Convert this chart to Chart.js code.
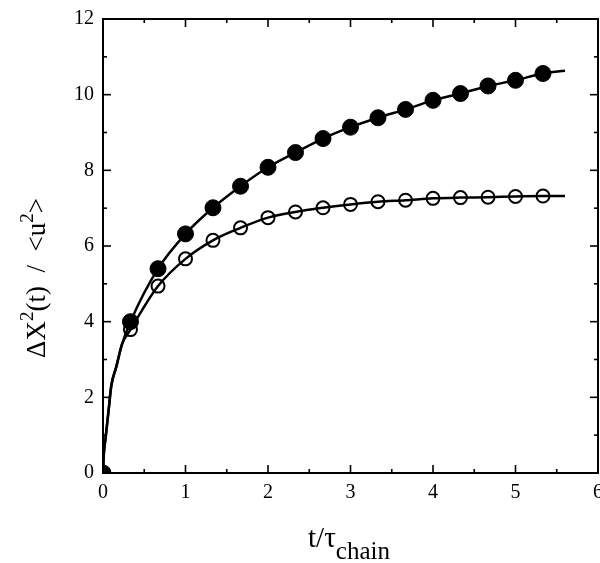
<!DOCTYPE html>
<html><head><meta charset="utf-8">
<script src="https://cdn.jsdelivr.net/npm/chart.js@4/dist/chart.umd.min.js"></script>
<style>html,body{margin:0;padding:0;background:#fff}#wrap{width:600px;height:563px}</style>
</head><body><div id="wrap"><canvas id="c" width="600" height="563"></canvas></div>
<script>
// ---- data ----
const markerT  = [0, 0.333, 0.667, 1.0, 1.333, 1.667, 2.0, 2.333, 2.667, 3.0, 3.333, 3.667, 4.0, 4.333, 4.667, 5.0, 5.333];
const filledY  = [0, 4.00, 5.40, 6.32, 7.01, 7.58, 8.08, 8.47, 8.84, 9.14, 9.39, 9.61, 9.85, 10.03, 10.23, 10.38, 10.56];
const openY    = [0, 3.79, 4.94, 5.66, 6.15, 6.48, 6.75, 6.90, 7.01, 7.10, 7.17, 7.21, 7.26, 7.28, 7.29, 7.31, 7.32];
// fitted curves (solid lines)
const fitT      = [0, 0.01, 0.03, 0.07, 0.10, 0.16, 0.23, 0.333, 0.667, 1.0, 1.333, 1.667, 2.0, 2.333, 2.667, 3.0, 3.333, 3.667, 4.0, 4.333, 4.667, 5.0, 5.333, 5.6];
const filledFit = [0, 0.5, 0.9, 1.7, 2.3, 2.8, 3.4, 4.00, 5.40, 6.32, 7.01, 7.58, 8.08, 8.47, 8.84, 9.14, 9.39, 9.61, 9.85, 10.03, 10.23, 10.38, 10.56, 10.63];
const openFit   = [0, 0.5, 0.9, 1.7, 2.3, 2.8, 3.4, 3.79, 4.94, 5.66, 6.15, 6.48, 6.75, 6.90, 7.01, 7.10, 7.17, 7.21, 7.26, 7.28, 7.29, 7.31, 7.32, 7.32];
// axes
const xTickLabels = [0, 1, 2, 3, 4, 5, 6];
const yTickLabels = [0, 2, 4, 6, 8, 10, 12];
const xMinorTicks = [0.5, 1.5, 2.5, 3.5, 4.5, 5.5];
const yMinorTicks = [1, 3, 5, 7, 9, 11];

const pts = (xs, ys) => xs.map((v, i) => ({x: v, y: ys[i]}));
const SERIF = '"Liberation Serif", "Times New Roman", serif';

const frame = {
  id: 'frame',
  afterDraw(chart) {
    const {ctx, chartArea: a, scales: {x, y}} = chart;
    ctx.save();
    ctx.strokeStyle = '#000';
    ctx.lineWidth = 2;
    ctx.strokeRect(a.left, a.top, a.right - a.left, a.bottom - a.top);
    ctx.lineWidth = 1.6;
    const seg = (x1, y1, x2, y2) => { ctx.beginPath(); ctx.moveTo(x1, y1); ctx.lineTo(x2, y2); ctx.stroke(); };
    const xt = (vals, L) => vals.forEach(v => { const p = x.getPixelForValue(v); seg(p, a.bottom, p, a.bottom - L); seg(p, a.top, p, a.top + L); });
    const yt = (vals, L) => vals.forEach(v => { const p = y.getPixelForValue(v); seg(a.left, p, a.left + L, p); seg(a.right, p, a.right - L, p); });
    xt(xTickLabels, 8); xt(xMinorTicks, 4);
    yt(yTickLabels, 8); yt(yMinorTicks, 4);

    ctx.fillStyle = '#000';
    ctx.textBaseline = 'alphabetic';
    // x title: t/τ_chain
    ctx.font = '29px ' + SERIF;
    const w1 = ctx.measureText('t/\u03c4').width;
    ctx.font = '25px ' + SERIF;
    const w2 = ctx.measureText('chain').width;
    let sx = 349 - (w1 + w2) / 2;
    ctx.font = '29px ' + SERIF;
    ctx.textAlign = 'left';
    ctx.fillText('t/\u03c4', sx, 547);
    ctx.font = '25px ' + SERIF;
    ctx.fillText('chain', sx + w1, 559);

    // y title: ΔX²(t) / <u²>
    const parts = [['\u0394X', 27, 0], ['2', 19, -12], ['(t)  /  <u', 27, 0], ['2', 19, -12], ['>', 27, 0]];
    let total = 0;
    parts.forEach(p => { ctx.font = p[1] + 'px ' + SERIF; p.push(ctx.measureText(p[0]).width); total += p[3]; });
    ctx.translate(45, 278);
    ctx.rotate(-Math.PI / 2);
    let cx = -total / 2;
    parts.forEach(p => { ctx.font = p[1] + 'px ' + SERIF; ctx.fillText(p[0], cx, p[2]); cx += p[3]; });
    ctx.restore();
  }
};

new Chart(document.getElementById('c'), {
  type: 'scatter',
  data: {
    datasets: [
      {label: 'fit filled', data: pts(fitT, filledFit), showLine: true, borderColor: '#000', borderWidth: 2.5, pointRadius: 0, cubicInterpolationMode: 'monotone', clip: 0},
      {label: 'fit open', data: pts(fitT, openFit), showLine: true, borderColor: '#000', borderWidth: 2.5, pointRadius: 0, cubicInterpolationMode: 'monotone', clip: 0},
      {label: 'filled', data: pts(markerT, filledY), showLine: false, pointRadius: 8, pointBackgroundColor: '#000', pointBorderColor: '#000', pointBorderWidth: 1, clip: 0},
      {label: 'open', data: pts(markerT, openY), showLine: false, pointRadius: 6.5, pointBackgroundColor: '#fff', pointBorderColor: '#000', pointBorderWidth: 2, clip: 0}
    ]
  },
  options: {
    responsive: false,
    animation: false,
    devicePixelRatio: 1,
    layout: {autoPadding: false, padding: {left: 0, right: 2, top: 19, bottom: 0}},
    plugins: {legend: {display: false}, tooltip: {enabled: false}},
    scales: {
      x: {
        type: 'linear', min: 0, max: 6,
        afterBuildTicks: s => { s.ticks = xTickLabels.map(v => ({value: v})); },
        afterFit: s => { s.height = 90; s.paddingLeft = 0; s.paddingRight = 0; },
        grid: {display: false, drawTicks: false},
        border: {display: false},
        ticks: {color: '#000', font: {family: SERIF, size: 20}, padding: 8, maxRotation: 0, autoSkip: false}
      },
      y: {
        type: 'linear', min: 0, max: 12,
        afterBuildTicks: s => { s.ticks = yTickLabels.map(v => ({value: v})); },
        afterFit: s => { s.width = 103; s.paddingTop = 0; s.paddingBottom = 0; },
        grid: {display: false, drawTicks: false},
        border: {display: false},
        ticks: {color: '#000', font: {family: SERIF, size: 20}, padding: 9}
      }
    }
  },
  plugins: [frame]
});
</script></body></html>
